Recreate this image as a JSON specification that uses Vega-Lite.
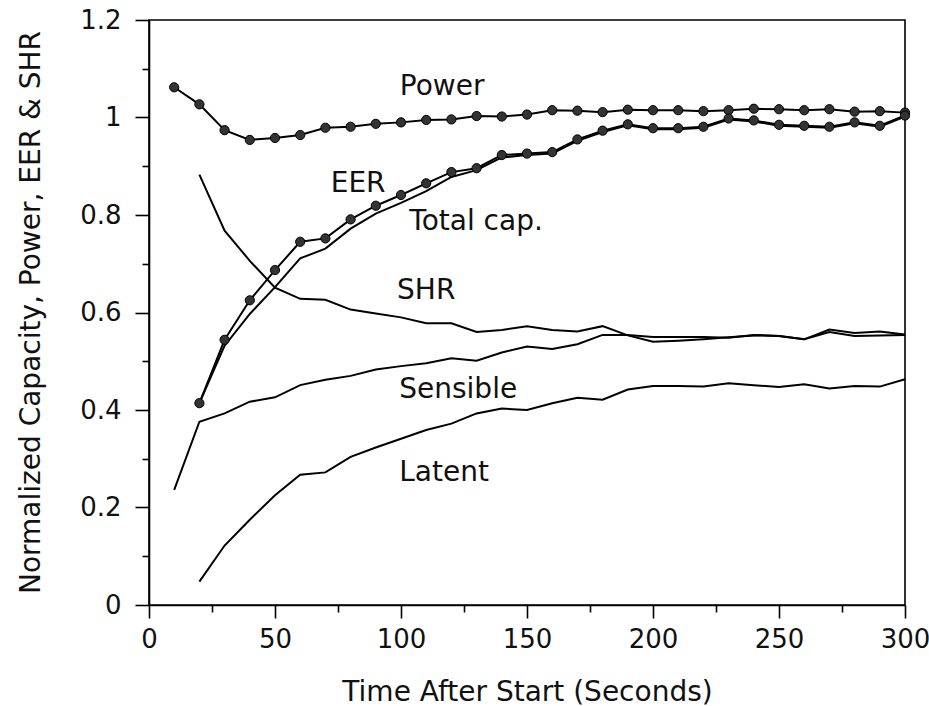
{
  "$schema": "https://vega.github.io/schema/vega-lite/v6.json",
  "width": 756,
  "height": 585,
  "autosize": {"type": "none"},
  "padding": {"left": 149, "top": 20, "right": 24, "bottom": 101},
  "background": "white",
  "config": {
    "font": "DejaVu Sans",
    "view": {"stroke": "black", "strokeWidth": 1.6}
  },
  "datasets": {
    "runs": [
      {"time": 10, "power": 1.062, "eer": null, "total_cap": null, "shr": null, "sensible": 0.236, "latent": null},
      {"time": 20, "power": 1.027, "eer": 0.414, "total_cap": 0.414, "shr": 0.883, "sensible": 0.376, "latent": 0.048},
      {"time": 30, "power": 0.974, "eer": 0.544, "total_cap": 0.532, "shr": 0.768, "sensible": 0.393, "latent": 0.122},
      {"time": 40, "power": 0.954, "eer": 0.625, "total_cap": 0.597, "shr": 0.706, "sensible": 0.417, "latent": 0.175},
      {"time": 50, "power": 0.958, "eer": 0.687, "total_cap": 0.652, "shr": 0.651, "sensible": 0.426, "latent": 0.225},
      {"time": 60, "power": 0.964, "eer": 0.745, "total_cap": 0.711, "shr": 0.628, "sensible": 0.451, "latent": 0.267},
      {"time": 70, "power": 0.979, "eer": 0.752, "total_cap": 0.731, "shr": 0.626, "sensible": 0.462, "latent": 0.272},
      {"time": 80, "power": 0.981, "eer": 0.791, "total_cap": 0.772, "shr": 0.606, "sensible": 0.470, "latent": 0.304},
      {"time": 90, "power": 0.987, "eer": 0.819, "total_cap": 0.803, "shr": 0.598, "sensible": 0.483, "latent": 0.323},
      {"time": 100, "power": 0.990, "eer": 0.841, "total_cap": 0.825, "shr": 0.590, "sensible": 0.490, "latent": 0.341},
      {"time": 110, "power": 0.995, "eer": 0.865, "total_cap": 0.849, "shr": 0.578, "sensible": 0.496, "latent": 0.359},
      {"time": 120, "power": 0.996, "eer": 0.888, "total_cap": 0.878, "shr": 0.578, "sensible": 0.506, "latent": 0.372},
      {"time": 130, "power": 1.003, "eer": 0.896, "total_cap": 0.892, "shr": 0.560, "sensible": 0.501, "latent": 0.393},
      {"time": 140, "power": 1.002, "eer": 0.923, "total_cap": 0.918, "shr": 0.564, "sensible": 0.518, "latent": 0.403},
      {"time": 150, "power": 1.006, "eer": 0.926, "total_cap": 0.923, "shr": 0.572, "sensible": 0.530, "latent": 0.400},
      {"time": 160, "power": 1.015, "eer": 0.929, "total_cap": 0.926, "shr": 0.564, "sensible": 0.525, "latent": 0.414},
      {"time": 170, "power": 1.014, "eer": 0.955, "total_cap": 0.952, "shr": 0.561, "sensible": 0.535, "latent": 0.425},
      {"time": 180, "power": 1.011, "eer": 0.973, "total_cap": 0.970, "shr": 0.572, "sensible": 0.554, "latent": 0.421},
      {"time": 190, "power": 1.016, "eer": 0.986, "total_cap": 0.984, "shr": 0.553, "sensible": 0.554, "latent": 0.442},
      {"time": 200, "power": 1.015, "eer": 0.978, "total_cap": 0.976, "shr": 0.540, "sensible": 0.550, "latent": 0.449},
      {"time": 210, "power": 1.015, "eer": 0.978, "total_cap": 0.976, "shr": 0.542, "sensible": 0.550, "latent": 0.449},
      {"time": 220, "power": 1.013, "eer": 0.981, "total_cap": 0.979, "shr": 0.545, "sensible": 0.550, "latent": 0.448},
      {"time": 230, "power": 1.015, "eer": 0.998, "total_cap": 0.996, "shr": 0.549, "sensible": 0.548, "latent": 0.455},
      {"time": 240, "power": 1.018, "eer": 0.994, "total_cap": 0.992, "shr": 0.553, "sensible": 0.554, "latent": 0.451},
      {"time": 250, "power": 1.017, "eer": 0.985, "total_cap": 0.983, "shr": 0.552, "sensible": 0.552, "latent": 0.447},
      {"time": 260, "power": 1.015, "eer": 0.983, "total_cap": 0.981, "shr": 0.545, "sensible": 0.545, "latent": 0.453},
      {"time": 270, "power": 1.017, "eer": 0.981, "total_cap": 0.979, "shr": 0.560, "sensible": 0.565, "latent": 0.444},
      {"time": 280, "power": 1.012, "eer": 0.990, "total_cap": 0.988, "shr": 0.552, "sensible": 0.558, "latent": 0.449},
      {"time": 290, "power": 1.013, "eer": 0.983, "total_cap": 0.981, "shr": 0.553, "sensible": 0.561, "latent": 0.448},
      {"time": 300, "power": 1.010, "eer": 1.004, "total_cap": 1.002, "shr": 0.554, "sensible": 0.555, "latent": 0.463}
    ],
    "curve_names": [
      {"name": "Power", "time": 116.3, "value": 1.062},
      {"name": "EER", "time": 83.0, "value": 0.864},
      {"name": "Total cap.", "time": 129.8, "value": 0.786},
      {"name": "SHR", "time": 110.0, "value": 0.644},
      {"name": "Sensible", "time": 122.7, "value": 0.441},
      {"name": "Latent", "time": 117.1, "value": 0.271}
    ]
  },
  "encoding": {
    "x": {
      "field": "time",
      "type": "quantitative",
      "title": "Time After Start (Seconds)",
      "scale": {"domain": [0, 300], "nice": false, "zero": false},
      "axis": {
        "values": [0, 25, 50, 75, 100, 125, 150, 175, 200, 225, 250, 275, 300],
        "labelExpr": "datum.value % 50 == 0 ? datum.label : ''",
        "tickSize": {"condition": {"test": "datum.value % 50 != 0", "value": 7}, "value": 13},
        "grid": false,
        "domainColor": "black",
        "domainWidth": 1.6,
        "tickColor": "black",
        "tickWidth": 1.6,
        "labelFont": "DejaVu Sans",
        "labelFontSize": 26,
        "labelColor": "#111",
        "labelPadding": 8,
        "labelFlush": false,
        "labelOverlap": false,
        "titleFont": "DejaVu Sans",
        "titleFontSize": 28,
        "titleFontWeight": "normal",
        "titleColor": "#111",
        "titleBaseline": "alphabetic",
        "titleY": 95
      }
    },
    "y": {
      "field": "value",
      "type": "quantitative",
      "title": "Normalized Capacity, Power, EER & SHR",
      "scale": {"domain": [0, 1.2], "nice": false},
      "axis": {
        "values": [0, 0.1, 0.2, 0.3, 0.4, 0.5, 0.6, 0.7, 0.8, 0.9, 1, 1.1, 1.2],
        "labelExpr": "round(datum.value * 10) % 2 == 0 ? format(datum.value, '~g') : ''",
        "tickSize": {"condition": {"test": "round(datum.value * 10) % 2 == 1", "value": 7}, "value": 14},
        "grid": false,
        "domainColor": "black",
        "domainWidth": 1.6,
        "tickColor": "black",
        "tickWidth": 1.6,
        "labelFont": "DejaVu Sans",
        "labelFontSize": 26,
        "labelColor": "#111",
        "labelPadding": 14,
        "labelFlush": false,
        "labelOverlap": false,
        "titleFont": "DejaVu Sans",
        "titleFontSize": 28,
        "titleFontWeight": "normal",
        "titleColor": "#111",
        "titleBaseline": "alphabetic",
        "titleAlign": "center",
        "titleX": -110,
        "titleY": 292
      }
    }
  },
  "layer": [
    {
      "data": {"name": "runs"},
      "transform": [
        {"fold": ["power", "eer", "total_cap", "shr", "sensible", "latent"], "as": ["series", "value"]}
      ],
      "mark": {"type": "line", "color": "black", "strokeWidth": 2, "interpolate": "linear"},
      "encoding": {"detail": {"field": "series"}}
    },
    {
      "data": {"name": "runs"},
      "transform": [
        {"fold": ["power", "eer"], "as": ["series", "value"]},
        {"filter": "isValid(datum.value)"}
      ],
      "mark": {"type": "point", "shape": "circle", "filled": true, "size": 85, "fill": "#333", "stroke": "black", "strokeWidth": 1, "opacity": 1}
    },
    {
      "data": {"name": "curve_names"},
      "mark": {"type": "text", "font": "DejaVu Sans", "fontSize": 28, "color": "#111", "align": "center", "baseline": "middle"},
      "encoding": {"text": {"field": "name"}}
    }
  ]
}
